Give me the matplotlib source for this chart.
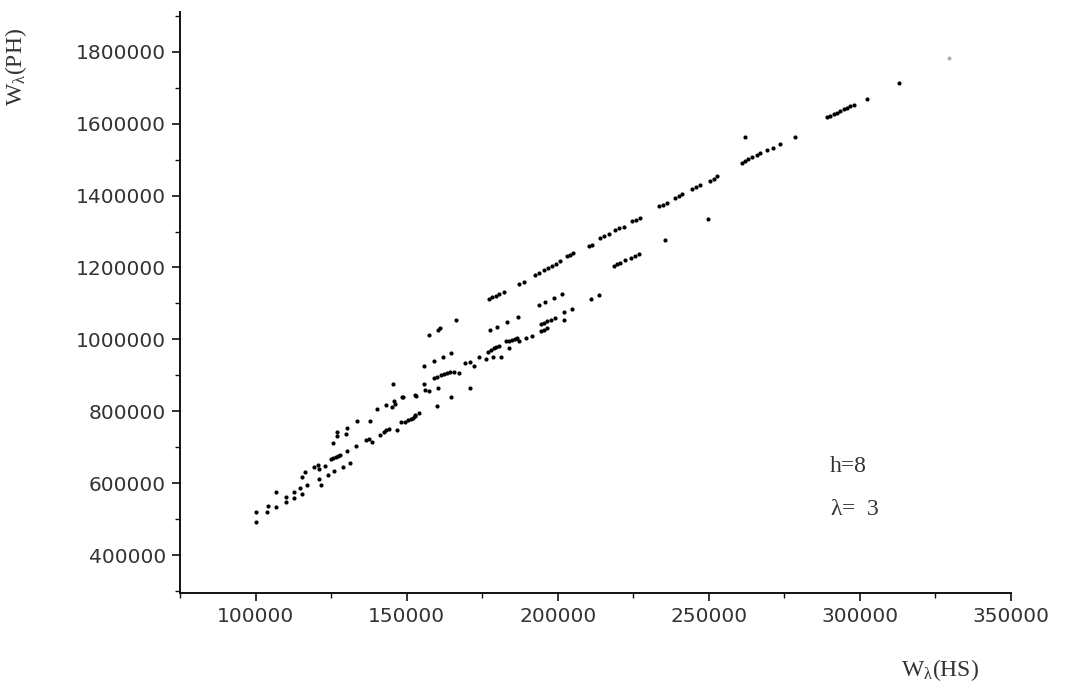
import matplotlib
matplotlib.use("Agg")
import matplotlib.pyplot as plt
from matplotlib.ticker import MultipleLocator

# valores: W_lambda(HS) vs W_lambda(PH), h=8, lambda=3
hs = [
    100300, 100300, 103900, 104100, 106600, 106600, 110200, 110200, 112700, 112700,
    114700, 115400, 115200, 116500, 117100, 119300, 120700, 120900, 120900, 121800,
    123100, 123900, 124800, 125600, 126500, 127300, 128100, 126100, 128800, 130100,
    131400, 133100, 125600, 127000, 127000, 129800, 130100, 133600, 136400, 137400,
    138600, 138000, 141300, 142400, 143300, 144100, 140200, 143200, 145200, 146300,
    145700, 148500, 145500, 146900, 148000, 149600, 150400, 151300, 152100, 152900,
    153200, 148800, 152900, 152900, 154000, 156200, 157300, 155700, 160100, 160400,
    164700, 170900, 159000, 160100, 161200, 162300, 163400, 164500, 165600, 167200,
    155900, 159000, 161900, 164700, 169400, 171100, 172400, 173800, 176100, 176800,
    177800, 178800, 179600, 180500, 178600, 181300, 183000, 184000, 184900, 185700,
    186500, 183800, 187100, 189600, 191500, 194300, 195300, 196500, 194300, 195300,
    196500, 197900, 199200, 202000, 202000, 204700, 157300, 160300, 161000, 166200,
    177700, 179900, 183200, 186700, 193700, 195900, 198700, 201400, 177200, 178300,
    179400, 180700, 182100, 187100, 188700, 192600, 193900, 195300, 196700, 198100,
    199500, 200900, 203100, 204100, 205100, 210200, 211400, 214100, 215400, 216800,
    219100, 220400, 221800, 224600, 225900, 227300, 218500, 219600, 220700, 222400,
    224200, 225500, 226800, 233400, 234800, 236200, 238900, 240000, 241100, 244400,
    245800, 247200, 250500, 251600, 252700, 261000, 262000, 263100, 264400, 265900,
    267000, 269200, 271400, 273600, 262000, 278400, 289100, 290200, 291300, 292400,
    293500, 294600, 295700, 296800, 297900, 302300, 313100, 235600, 249700, 211100,
    213800,
]
ph = [
    492000, 521000, 521000, 536500, 532900, 575500, 548500, 562400, 558000, 574700,
    585800, 569100, 618100, 630400, 595000, 646000, 650700, 638800, 612600, 594200,
    648000, 622900, 668300, 670200, 673000, 675300, 677800, 634900, 644300, 690600,
    655500, 703700, 712000, 731500, 743500, 737100, 753000, 773300, 720400, 722300,
    715700, 774200, 734300, 743500, 746900, 750200, 805900, 817100, 813200, 820700,
    829900, 839400, 876400, 748300, 769700, 771400, 774700, 778100, 782500, 787300,
    843000, 841000, 845800, 790000, 796400, 859700, 857700, 876400, 815900, 864400,
    839400, 864400, 892300, 896700, 901500, 904800, 907900, 909300, 910700, 906200,
    926600, 940500, 950800, 961900, 934100, 938500, 926600, 952500, 945200, 966400,
    971100, 975900, 978900, 982300, 952500, 950800, 994300, 996800, 999000, 1001200,
    1003700, 975900, 994300, 1003700, 1010100, 1022100, 1026900, 1031600, 1043600, 1046900,
    1050000, 1054700, 1059400, 1052800, 1075100, 1084500, 1012900, 1026900, 1031600, 1054700,
    1024900, 1034400, 1047200, 1062200, 1096500, 1102900, 1115200, 1126300, 1112400, 1116800,
    1121600, 1127100, 1132700, 1155000, 1158600, 1180100, 1185700, 1192100, 1197600, 1203200,
    1210700, 1217100, 1231100, 1235800, 1240500, 1258900, 1263700, 1282300, 1288700, 1294300,
    1305500, 1309100, 1312900, 1328600, 1333300, 1338000, 1205200, 1208800, 1212700, 1219900,
    1226600, 1233000, 1238600, 1370400, 1375100, 1379800, 1393800, 1398200, 1403000, 1416900,
    1422500, 1428000, 1440000, 1447000, 1454000, 1491300, 1495700, 1500500, 1506000, 1511600,
    1519100, 1526400, 1533100, 1542300, 1561800, 1563700, 1618300, 1622200, 1625800, 1630600,
    1635000, 1639800, 1644500, 1648100, 1650900, 1669600, 1714200, 1275600, 1335300, 1112400,
    1122400,
]
# punto tenue arriba a la derecha
faint_hs = [329600]
faint_ph = [1781900]

x_ticks = [100000, 150000, 200000, 250000, 300000, 350000]
y_ticks = [400000, 600000, 800000, 1000000, 1200000, 1400000, 1600000, 1800000]

plt.rcParams['mathtext.fontset'] = 'custom'
plt.rcParams['mathtext.rm'] = 'Liberation Serif'
plt.rcParams['mathtext.it'] = 'Liberation Serif'

fig = plt.figure(figsize=(10.66, 6.85), dpi=100)
ax = fig.add_axes([0.1689, 0.1343, 0.7795, 0.848])

ax.scatter(hs, ph, s=9, c='black', linewidths=0)
ax.scatter(faint_hs, faint_ph, s=8, c='#aaaaaa', linewidths=0)

ax.set_xlim(75000, 350000)
ax.set_ylim(295000, 1910000)
ax.set_xticks(x_ticks)
ax.set_yticks(y_ticks)
ax.ticklabel_format(style='plain', useOffset=False)
ax.xaxis.set_minor_locator(MultipleLocator(25000))
ax.yaxis.set_minor_locator(MultipleLocator(100000))

for s in ['top', 'right']:
    ax.spines[s].set_visible(False)
for s in ['left', 'bottom']:
    ax.spines[s].set_linewidth(1.4)
    ax.spines[s].set_color('#111111')

ax.tick_params(which='major', direction='out', length=6, width=1.2, color='#111111',
               labelsize=14.5, labelcolor='#333333', pad=4)
ax.tick_params(which='minor', direction='out', length=3.5, width=1.0, color='#111111')
for lab in ax.get_xticklabels() + ax.get_yticklabels():
    lab.set_family('DejaVu Sans')

ax.set_ylabel(r'W$_{\lambda}$(PH)', family='Liberation Serif', fontsize=17, color='#333333')
ax.yaxis.set_label_coords(-0.182, 0.905)
ax.set_xlabel(r'W$_{\lambda}$(HS)', family='Liberation Serif', fontsize=17, color='#333333')
ax.xaxis.set_label_coords(0.915, -0.11)

ax.text(0.782, 0.217, 'h=8', transform=ax.transAxes, family='Liberation Serif',
        fontsize=17, color='#333333', ha='left', va='center')
ax.text(0.782, 0.143, r'$\lambda$=  3', transform=ax.transAxes, family='Liberation Serif',
        fontsize=17, color='#333333', ha='left', va='center')

fig.savefig('out.png', dpi=100)
